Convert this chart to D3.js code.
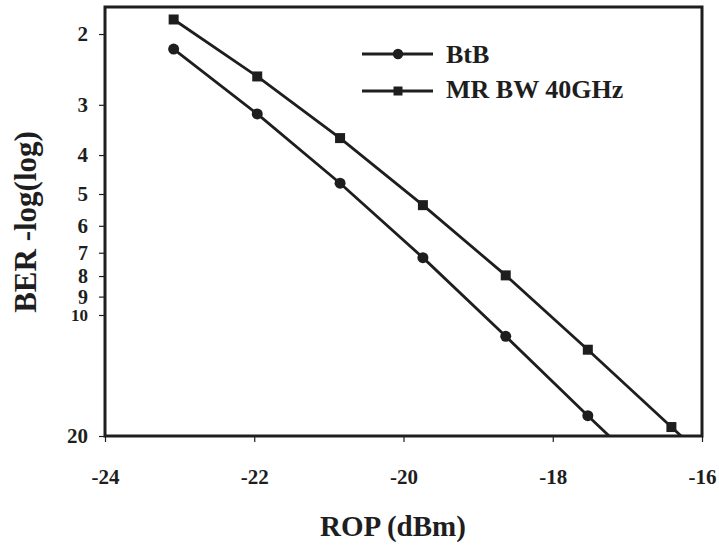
<!DOCTYPE html>
<html>
<head>
<meta charset="utf-8">
<script src="https://cdn.jsdelivr.net/npm/d3@7"></script>
<style>
  body { margin: 0; background: #fff; }
  svg { display: block; }
  svg text { font-family: "Liberation Serif", "DejaVu Serif", "Noto Serif", "Times New Roman", serif; }
</style>
</head>
<body>
<script>
// Data (ROP in dBm, BER shown as -log(log))
const rop = [-23.08, -21.96, -20.85, -19.74, -18.63, -17.53, -16.41, -15.30];
const btb = [2.18, 3.16, 4.70, 7.20, 11.3, 17.8, 28.1];        // last one runs off the plot
const mrBw40 = [1.84, 2.55, 3.63, 5.33, 7.97, 12.2, 19.0, 29.4]; // last one runs off the plot
const xTicks = [-24, -22, -20, -18, -16];
const yTicks = [2, 3, 4, 5, 6, 7, 8, 9, 10, 20];
const seriesNames = ["BtB", "MR BW 40GHz"];

const width = 719, height = 546;
const margin = {top: 7, right: 17, bottom: 110, left: 105};
const ink = "#1e1e1e";

const svg = d3.select("body").append("svg")
    .attr("width", width)
    .attr("height", height);

const x = d3.scaleLinear()
    .domain([-24, -16])
    .range([margin.left, width - margin.right]);

const y = d3.scaleLog()
    .domain([1.713, 20])
    .range([margin.top, height - margin.bottom]);

// clip so the lines stop at the frame
svg.append("clipPath")
    .attr("id", "plot-clip")
  .append("rect")
    .attr("x", x.range()[0])
    .attr("y", y.range()[0])
    .attr("width", x.range()[1] - x.range()[0])
    .attr("height", y.range()[1] - y.range()[0]);

// x axis
const xAxis = svg.append("g")
    .attr("transform", `translate(0,${y.range()[1]})`)
    .call(d3.axisBottom(x)
      .tickValues(xTicks)
      .tickSize(6)
      .tickPadding(27)
      .tickFormat(d => String(d)));
xAxis.attr("font-family", null);
xAxis.select(".domain").remove();
xAxis.selectAll("line").attr("stroke", ink).attr("stroke-width", 1.2);
xAxis.selectAll("text")
    .attr("fill", ink)
    .style("font-size", "21px")
    .style("font-weight", "bold");

// y axis
const yAxis = svg.append("g")
    .attr("transform", `translate(${x.range()[0]},0)`)
    .call(d3.axisLeft(y)
      .tickValues(yTicks)
      .tickSize(6)
      .tickPadding(11)
      .tickFormat(d3.format("d")));
yAxis.attr("font-family", null);
yAxis.select(".domain").remove();
yAxis.selectAll("line").attr("stroke", ink).attr("stroke-width", 1.2);
yAxis.selectAll("text")
    .attr("fill", ink)
    .style("font-size", d => d === 10 ? "17px" : (d >= 7 && d <= 9 ? "20px" : "21px"))
    .style("font-weight", "bold");

// frame
svg.append("rect")
    .attr("x", x.range()[0])
    .attr("y", y.range()[0])
    .attr("width", x.range()[1] - x.range()[0])
    .attr("height", y.range()[1] - y.range()[0])
    .attr("fill", "none")
    .attr("stroke", ink)
    .attr("stroke-width", 3);

// series
const series = [
  {name: seriesNames[0], values: btb, symbol: "circle"},
  {name: seriesNames[1], values: mrBw40, symbol: "square"}
];

const line = d3.line()
    .x(d => x(d.rop))
    .y(d => y(d.v));

const plot = svg.append("g").attr("clip-path", "url(#plot-clip)");

series.forEach(s => {
  const pts = s.values.map((v, i) => ({rop: rop[i], v}));
  plot.append("path")
      .datum(pts)
      .attr("fill", "none")
      .attr("stroke", ink)
      .attr("stroke-width", 2.8)
      .attr("d", line);

  if (s.symbol === "circle") {
    plot.selectAll(null)
      .data(pts)
      .join("circle")
        .attr("cx", d => x(d.rop))
        .attr("cy", d => y(d.v))
        .attr("r", 5.5)
        .attr("fill", ink);
  } else {
    plot.selectAll(null)
      .data(pts)
      .join("rect")
        .attr("x", d => x(d.rop) - 5)
        .attr("y", d => y(d.v) - 5)
        .attr("width", 10)
        .attr("height", 10)
        .attr("fill", ink);
  }
});

// legend
const legend = svg.append("g");
series.forEach((s, i) => {
  const ly = i === 0 ? 54 : 91;
  legend.append("line")
      .attr("x1", 362).attr("x2", 433)
      .attr("y1", ly).attr("y2", ly)
      .attr("stroke", ink)
      .attr("stroke-width", 2.8);
  if (s.symbol === "circle") {
    legend.append("circle")
        .attr("cx", 398).attr("cy", ly).attr("r", 5.2)
        .attr("fill", ink);
  } else {
    legend.append("rect")
        .attr("x", 393.5).attr("y", ly - 4.5)
        .attr("width", 9).attr("height", 9)
        .attr("fill", ink);
  }
  legend.append("text")
      .attr("x", 446)
      .attr("y", i === 0 ? 63 : 98)
      .attr("fill", ink)
      .style("font-size", "26px")
      .style("font-weight", "bold")
      .text(s.name);
});

// axis titles
svg.append("text")
    .attr("x", 393)
    .attr("y", 536)
    .attr("text-anchor", "middle")
    .attr("fill", ink)
    .style("font-size", "29px")
    .style("font-weight", "bold")
    .text("ROP (dBm)");

svg.append("text")
    .attr("transform", "translate(36,222) rotate(-90)")
    .attr("text-anchor", "middle")
    .attr("fill", ink)
    .style("font-size", "31px")
    .style("font-weight", "bold")
    .text("BER -log(log)");
</script>
</body>
</html>
